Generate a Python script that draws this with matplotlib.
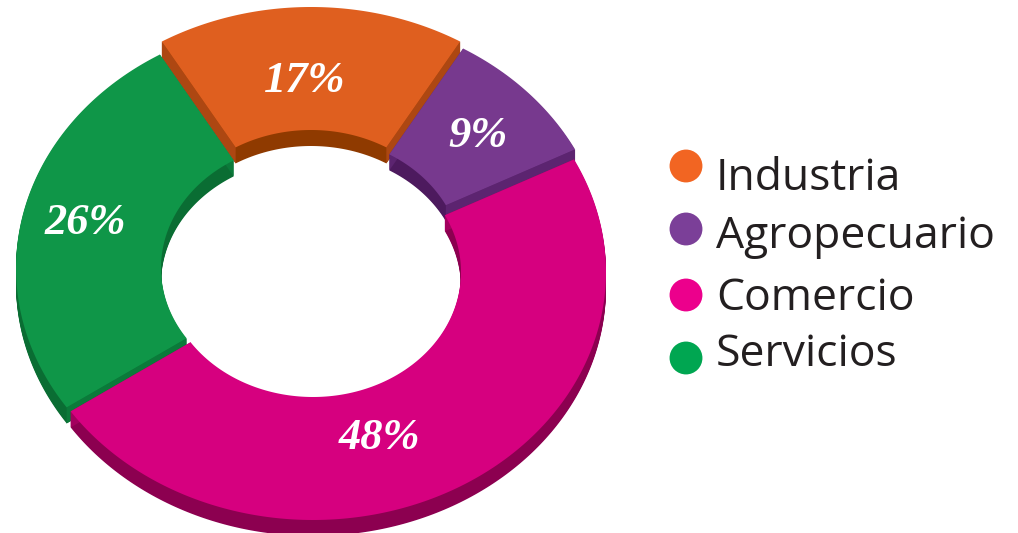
import numpy as np
import matplotlib.pyplot as plt
from matplotlib.patches import Polygon

# Data
labels = ['Industria', 'Agropecuario', 'Comercio', 'Servicios']
values = [17, 9, 48, 26]

# Colours (top surface, walls, cut faces, legend dots)
top_colors = ['#DF5F1F', '#77398E', '#D6007F', '#0F9648']
wall_colors = ['#8F3A00', '#4D1A5E', '#8C0050', '#0A6D33']
side_colors = ['#AD4712', '#5C2470', '#A3005E', '#0B7A3A']
legend_colors = ['#F26522', '#7B3F98', '#EC008C', '#00A651']

# Geometry in pixels
cx, cy = 311, 268
rx_out, ry_out = 293, 248
rx_in, ry_in = 148, 125
depth = 16
explode = [(0, -13), (3, -6), (2, 4), (-2, 0)]
label_xy = [(305, 81), (478, 136), (380, 438), (85, 223)]
draw_order = [0, 1, 3, 2]

fig = plt.figure(figsize=(10.18, 5.33), dpi=100)
ax = fig.add_axes([0, 0, 1, 1])
ax.set_xlim(0, 1018)
ax.set_ylim(533, 0)
ax.axis('off')


def ring_pts(a1, a2, rx, ry, dx, dy, n=200):
    t = np.radians(np.linspace(a1, a2, n))
    return np.column_stack([cx + dx + rx * np.cos(t), cy + dy - ry * np.sin(t)])


# slice angles, clockwise from the top, Industria centred at 90 deg
start = 90 + values[0] * 3.6 / 2
angles = []
a = start
for v in values:
    angles.append((a, a - v * 3.6))
    a -= v * 3.6

for i in draw_order:
    a1, a2 = angles[i]
    dx, dy = explode[i]
    outer = ring_pts(a1, a2, rx_out, ry_out, dx, dy)
    inner = ring_pts(a2, a1, rx_in, ry_in, dx, dy)
    top = np.vstack([outer, inner])

    # extruded body
    for k in range(depth, 0, -1):
        ax.add_patch(Polygon(top + [0, k], closed=True, facecolor=wall_colors[i],
                             edgecolor='none'))
    # radial cut faces
    for o, n in [(outer[0], inner[-1]), (outer[-1], inner[0])]:
        quad = np.array([o, n, n + [0, depth], o + [0, depth]])
        ax.add_patch(Polygon(quad, closed=True, facecolor=side_colors[i],
                             edgecolor='none'))
    # top surface
    ax.add_patch(Polygon(top, closed=True, facecolor=top_colors[i],
                         edgecolor='none'))

for i, v in enumerate(values):
    x, y = label_xy[i]
    ax.text(x, y, f'{v}%', color='white', fontsize=32, fontweight='bold',
            fontstyle='italic', family='Liberation Serif', ha='center', va='center')

# Legend
dot_y = [166, 229, 295, 358]
text_y = [190, 248, 310, 366]
for i, lab in enumerate(labels):
    ax.scatter(686, dot_y[i], s=560, color=legend_colors[i], edgecolors='none')
    ax.text(716, text_y[i], lab, fontsize=32, family='Open Sans', color='#231F20',
            ha='left', va='baseline')

plt.savefig('out.png', dpi=100)
